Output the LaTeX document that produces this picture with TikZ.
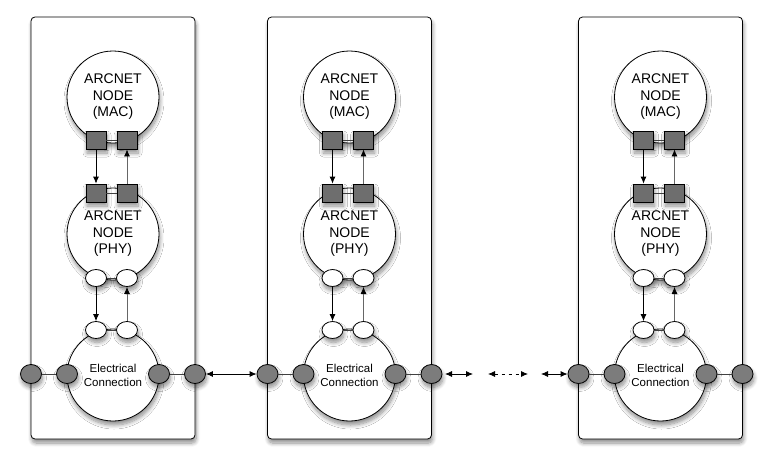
\documentclass[tikz,border=0pt]{standalone}
\usepackage{fontspec}
\setmainfont{Liberation Sans}
\usetikzlibrary{arrows.meta,shapes.geometric,shadows.blur,positioning}

\definecolor{portgray}{HTML}{6E6E6E}
\definecolor{pingray}{HTML}{7C7C7C}
\definecolor{upline}{HTML}{666666}

\tikzset{
  soft/.style={blur shadow={shadow xshift=1pt,shadow yshift=-4pt,shadow opacity=45,shadow blur steps=8,shadow blur radius=4pt}},
  frame/.style={draw,rounded corners=4pt,line width=0.8pt,fill=white,minimum width=164pt,minimum height=422pt,soft},
  unit/.style={circle,draw,line width=0.8pt,fill=white,minimum size=92pt,inner sep=0pt,align=center,soft},
  macport/.style={rectangle,draw,line width=0.8pt,fill=portgray,minimum width=20pt,minimum height=18pt,inner sep=0pt,soft},
  phyport/.style={ellipse,draw,line width=0.8pt,fill=white,minimum width=21pt,minimum height=17pt,inner sep=0pt,soft},
  wire/.style={ellipse,draw,line width=0.8pt,fill=pingray,minimum width=21pt,minimum height=19pt,inner sep=0pt,soft},
  link/.style={line width=0.8pt,draw=black!75},
  uparrow/.style={-{Latex[length=7pt,width=6pt,color=black]},draw=upline}
}

\begin{document}
\begin{tikzpicture}[x=1pt,y=-1pt,>={Latex[length=7pt,width=6pt]},line width=0.8pt]
\useasboundingbox (0,0) rectangle (773,463);

\foreach \n/\x in {a/113,b/349.5,c/660.5}{
   \node[frame] (box\n) at (\x,228) {};
   % the three stacked units
   \node[unit,font=\fontsize{14}{16.5}\selectfont] (mac\n) at (\x,97) {ARCNET\\NODE\\(MAC)};
   \node[unit,font=\fontsize{14}{16.5}\selectfont] (phy\n) at (\x,234) {ARCNET\\NODE\\(PHY)};
   \node[unit,font=\fontsize{11.5}{14}\selectfont] (elec\n) at (\x,375) {Electrical\\Connection};
   % ports
   \node[macport] (macL\n) at (\x-17,140) {};
   \node[macport] (macR\n) at (\x+14,140) {};
   \node[macport] (phyTL\n) at (\x-17,193) {};
   \node[macport] (phyTR\n) at (\x+14,193) {};
   \node[phyport] (phyBL\n) at (\x-17,278) {};
   \node[phyport] (phyBR\n) at (\x+14,278) {};
   \node[phyport] (elecL\n) at (\x-17,330) {};
   \node[phyport] (elecR\n) at (\x+14,330) {};
   \node[wire] (wl\n) at (\x-82,374) {};
   \node[wire] (cl\n) at (\x-46,374) {};
   \node[wire] (cr\n) at (\x+46,374) {};
   \node[wire] (wr\n) at (\x+82,374) {};
   % links
   \path[link]
   (macL\n) -- (macR\n)
   (phyTL\n) -- (phyTR\n)
   (phyBL\n) -- (phyBR\n)
   (elecL\n) -- (elecR\n)
   (wl\n) -- (cl\n)
   (cr\n) -- (wr\n);
   \draw[->] (macL\n) -- (phyTL\n);
   \draw[uparrow] (phyTR\n) -- (macR\n);
   \draw[->] (phyBL\n) -- (elecL\n);
   \draw[uparrow] (elecR\n) -- (phyBR\n);
}

% bus between the boxes
\coordinate (g1) at (445,374);
\coordinate (g2) at (473,374);
\coordinate (g3) at (488,374);
\coordinate (g4) at (528,374);
\coordinate (g5) at (541,374);
\draw[<->] (wra) -- (wlb);
\draw[<->] (g1) -- (g2);
\draw[<->,dash pattern=on 3pt off 4pt] (g3) -- (g4);
\draw[<->] (g5) -- (wlc);

\end{tikzpicture}
\end{document}
